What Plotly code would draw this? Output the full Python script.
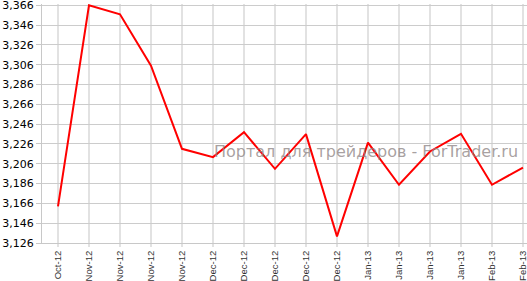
import plotly.graph_objects as go

labels = ["Oct-12", "Nov-12", "Nov-12", "Nov-12", "Nov-12", "Dec-12", "Dec-12", "Dec-12",
          "Dec-12", "Dec-12", "Jan-13", "Jan-13", "Jan-13", "Jan-13", "Feb-13", "Feb-13"]
values = [3162.9, 3366.0, 3356.9, 3305.1, 3221.1, 3212.7, 3237.9, 3200.9,
          3235.9, 3132.7, 3227.4, 3184.8, 3218.4, 3236.2, 3184.8, 3202.2]
positions = list(range(len(labels)))
watermark = "Портал для трейдеров - ForTrader.ru"

fig = go.Figure()
fig.add_trace(go.Scatter(x=positions, y=values, mode="lines",
                         line=dict(color="#ff0000", width=2), hoverinfo="skip"))

fig.add_annotation(text=watermark, xref="paper", yref="paper", x=0.668, y=0.382,
                   showarrow=False, xanchor="center", yanchor="middle",
                   font=dict(family="DejaVu Sans", size=16, color="rgba(140,130,130,0.75)"))

fig.update_layout(
    width=527, height=281,
    margin=dict(l=42, r=0, t=4, b=38, autoexpand=False),
    paper_bgcolor="white", plot_bgcolor="white",
    showlegend=False,
    font=dict(family="DejaVu Sans", size=11, color="#000000"),
)
fig.update_xaxes(
    range=[-0.516, 15.13], tickmode="array", tickvals=positions, ticktext=labels,
    tickangle=-90, tickfont=dict(family="Liberation Sans", size=9.5, color="#333333"),
    ticklabeloverflow="allow",
    showgrid=True, gridcolor="#e2e2e2", gridwidth=2,
    ticks="outside", ticklen=3, tickcolor="#e2e2e2", tickwidth=2,
    showline=True, linecolor="#c8c8c8", linewidth=1, zeroline=False,
)
fig.update_yaxes(
    range=[3126, 3367.3], tick0=3126, dtick=20, tickformat=",d",
    tickfont=dict(size=11, color="#000000"), ticklabeloverflow="allow",
    showgrid=True, gridcolor="#cccccc", gridwidth=1,
    ticks="outside", ticklen=5, tickcolor="#c8c8c8",
    showline=True, linecolor="#c8c8c8", linewidth=1, zeroline=False,
)

fig.write_html("out.html")
